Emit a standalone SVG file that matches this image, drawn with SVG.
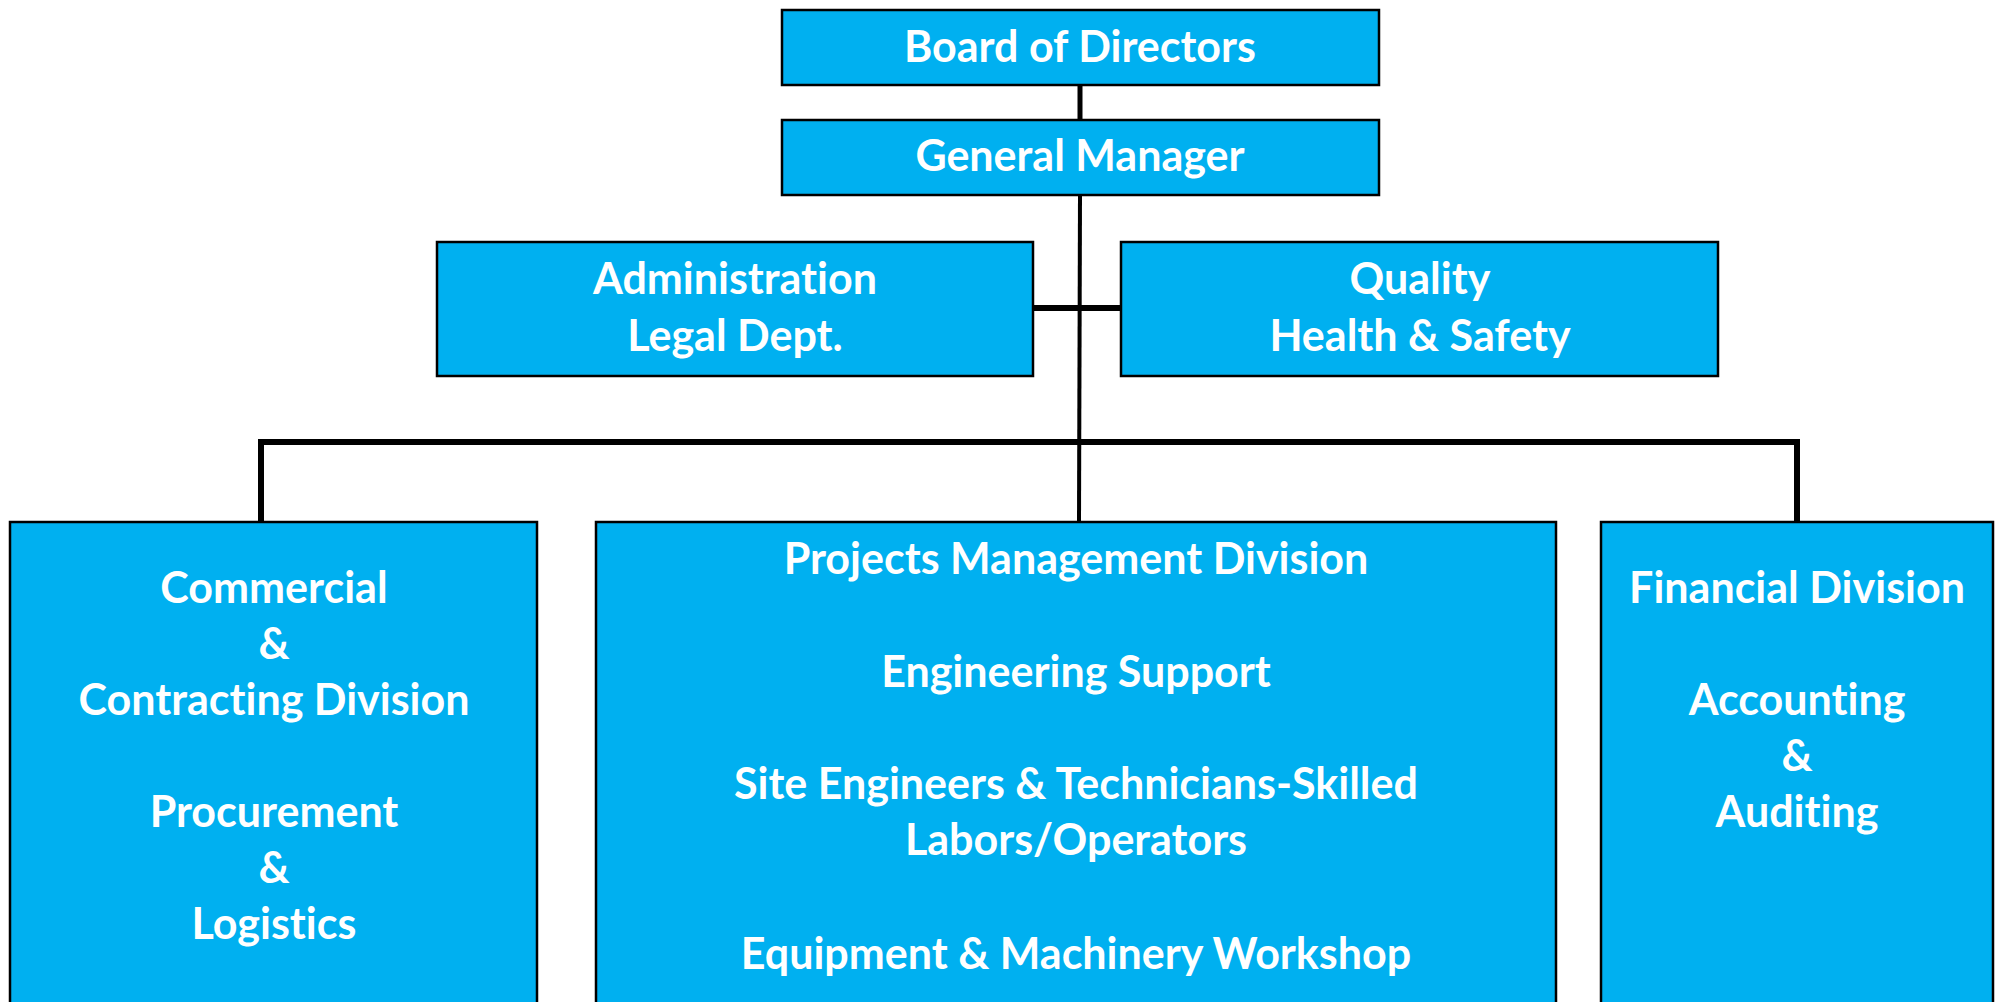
<svg xmlns="http://www.w3.org/2000/svg" width="1997" height="1002" viewBox="0 0 1997 1002">
<style>
.box{fill:#00B0F0;stroke:#000;stroke-width:2.5}
.t{font-family:Lato,"Open Sans","Liberation Sans",sans-serif;font-weight:bold;font-size:43px;fill:#fff;text-anchor:middle;font-variant-ligatures:none}
.c{stroke:#000;fill:none;stroke-linecap:square}
</style>
<rect width="1997" height="1002" fill="#fff"/>
<g id="connectors">
<line class="c" x1="1080" y1="85" x2="1080" y2="120" stroke-width="5"/>
<line class="c" x1="1080" y1="195" x2="1079" y2="522" stroke-width="4"/>
<line class="c" x1="1033" y1="308" x2="1121" y2="308" stroke-width="6"/>
<polyline class="c" points="261,522 261,442 1797,442 1797,522" stroke-width="6" stroke-linejoin="miter"/>
</g>
<g id="board">
<rect class="box" x="782" y="10" width="597" height="75"/>
<text class="t" x="1080" y="62">Board of Directors</text>
</g>
<g id="gm">
<rect class="box" x="782" y="120" width="597" height="75"/>
<text class="t" x="1080" y="171">General Manager</text>
</g>
<g id="admin">
<rect class="box" x="437" y="242" width="596" height="134"/>
<text class="t" x="735" y="294">Administration</text>
<text class="t" x="735" y="351">Legal Dept.</text>
</g>
<g id="quality">
<rect class="box" x="1121" y="242" width="597" height="134"/>
<text class="t" x="1420" y="294">Quality</text>
<text class="t" x="1420" y="351">Health &amp; Safety</text>
</g>
<g id="commercial">
<rect class="box" x="10" y="522" width="527" height="500"/>
<text class="t" x="274" y="603">Commercial</text>
<text class="t" x="274" y="659">&amp;</text>
<text class="t" x="274" y="715">Contracting Division</text>
<text class="t" x="274" y="827">Procurement</text>
<text class="t" x="274" y="883">&amp;</text>
<text class="t" x="274" y="939">Logistics</text>
</g>
<g id="projects">
<rect class="box" x="596" y="522" width="960" height="500"/>
<text class="t" x="1076" y="574">Projects Management Division</text>
<text class="t" x="1076" y="687">Engineering Support</text>
<text class="t" x="1076" y="799">Site Engineers &amp; Technicians-Skilled</text>
<text class="t" x="1076" y="855">Labors/Operators</text>
<text class="t" x="1076" y="969">Equipment &amp; Machinery Workshop</text>
</g>
<g id="financial">
<rect class="box" x="1601" y="522" width="392" height="500"/>
<text class="t" x="1797" y="603">Financial Division</text>
<text class="t" x="1797" y="715">Accounting</text>
<text class="t" x="1797" y="771">&amp;</text>
<text class="t" x="1797" y="827">Auditing</text>
</g>
</svg>
